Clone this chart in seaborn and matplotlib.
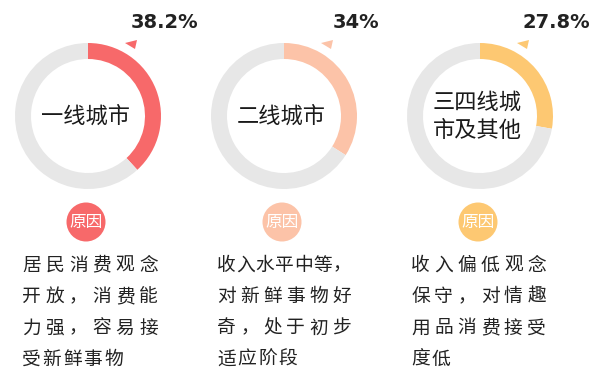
import matplotlib
matplotlib.use("Agg")
import matplotlib.pyplot as plt
import seaborn as sns
from matplotlib.patches import Circle, Polygon

sns.set_theme(style="white")
plt.rcParams['font.family'] = ['Noto Sans CJK SC', 'DejaVu Sans']

# ---- data ----
categories = ["一线城市", "二线城市", "三四线城\n市及其他"]
shares = [38.2, 34.0, 27.8]
pct_labels = ["38.2%", "34%", "27.8%"]
badge_text = "原因"
reasons = [
    ["居民消费观念", "开放，消费能", "力强，容易接", "受新鲜事物"],
    ["收入水平中等，", "对新鲜事物好", "奇，处于初步", "适应阶段"],
    ["收入偏低观念", "保守，对情趣", "用品消费接受", "度低"],
]
colors = ["#F7696A", "#FCC3A8", "#FDC872"]
ring_gray = "#E7E7E7"

W, H = 599, 383
fig = plt.figure(figsize=(W / 100, H / 100), dpi=100)
ax = fig.add_axes([0, 0, 1, 1])
ax.set_xlim(0, W)
ax.set_ylim(0, H)
ax.axis("off")

def Y(y):
    return H - y

centers_x = [88, 284, 480]
cy = 116
R = 73
ring_w = 16
pct_x = [164, 356, 556]
box_left = [23, 218, 412]
box_right = [157, 350, 545]
glyph = 17
natural_adv = 20.5

for i in range(3):
    cx = centers_x[i]
    ax.pie([shares[i], 100 - shares[i]], colors=[colors[i], ring_gray],
           startangle=90, counterclock=False, center=(cx, Y(cy)), radius=R,
           wedgeprops=dict(width=ring_w, edgecolor="none"), frame=True)
    # percent label
    ax.text(pct_x[i], Y(22), pct_labels[i], ha="center", va="center",
            fontsize=14, fontweight="bold", color="#222222",
            family=["DejaVu Sans"])
    # small pointer triangle
    tx = cx + 37
    ax.add_patch(Polygon([(tx, Y(43)), (tx + 12, Y(40)), (tx + 10, Y(49))],
                         closed=True, color=colors[i], lw=0))
    # center label
    ax.text(cx - 3, Y(cy), categories[i], ha="center", va="center",
            fontsize=16, color="#1a1a1a", linespacing=1.3)
    # badge
    ax.add_patch(Circle((cx - 2, Y(222)), 19.5, color=colors[i], lw=0))
    ax.text(cx - 2, Y(222), badge_text, ha="center", va="center",
            fontsize=12, color="white")
    # reason text, justified
    lines = reasons[i]
    for j, line in enumerate(lines):
        yy = Y(265 + j * 31.5)
        n = len(line)
        if j < len(lines) - 1 and n > 1:
            adv = (box_right[i] - box_left[i] - glyph) / (n - 1)
        else:
            adv = natural_adv
        for k, ch in enumerate(line):
            ax.text(box_left[i] + glyph / 2 + k * adv, yy, ch,
                    ha="center", va="center", fontsize=13.5, color="#222222")

ax.set_xlim(0, W)
ax.set_ylim(0, H)
fig.savefig("out.png", dpi=100)
